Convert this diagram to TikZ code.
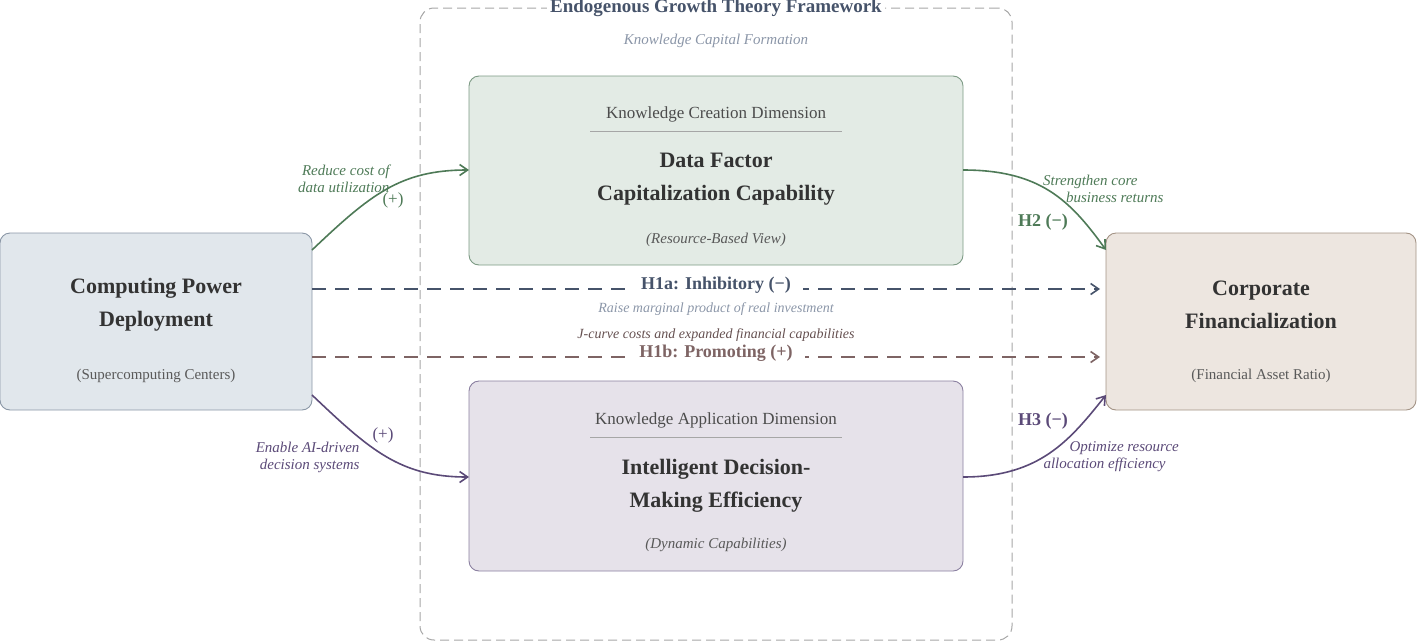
\documentclass[tikz,border=0pt]{standalone}
\usepackage{fontspec}
\setmainfont{Liberation Serif}
\usetikzlibrary{arrows.meta}
\definecolor{gblue}{HTML}{46536A}
\definecolor{ggreen}{HTML}{4E7A57}
\definecolor{gpurp}{HTML}{5B4A78}
\definecolor{gbrown}{HTML}{7E6464}
\definecolor{ggray}{HTML}{8B96A8}
\begin{document}
\begin{tikzpicture}[x=1pt,y=-1pt,
 box/.style={draw,rounded corners=10pt,line width=0.9pt,inner sep=0pt},
 ttl/.style={font=\fontsize{22}{26}\selectfont\bfseries,text=black!80,align=center},
 sub/.style={font=\fontsize{15}{17}\selectfont\itshape,text=black!65},
 dim/.style={font=\fontsize{17}{19}\selectfont,text=black!70},
 lab/.style={font=\fontsize{15}{17}\selectfont\itshape,align=center},
 hyp/.style={font=\fontsize{18}{20}\selectfont\bfseries},
 arr2/.style={line width=1.6pt,-{Straight Barb[length=8pt,width=11pt]}},
 dsh/.style={arr2,dash pattern=on 14pt off 9pt}]
\useasboundingbox (0,0) rectangle (1418,643);
\node[draw=black!35,line width=1pt,rounded corners=14pt,minimum width=592pt,minimum height=632pt,dash pattern=on 9pt off 5pt] (frame) at (716,324) {};
\node[fill=white,font=\fontsize{19}{21}\selectfont\bfseries,text=gblue,inner sep=3pt] (ftitle) at (716,8) {Endogenous Growth Theory Framework};
\node[sub,text=ggray] (kcf) at (716,41) {Knowledge Capital Formation};
% boxes
\node[box,fill={rgb,255:red,225;green,231;blue,236},draw={rgb,255:red,138;green,151;blue,166},minimum width=312pt,minimum height=177pt] (L) at (156,321.5) {};
\node[box,fill={rgb,255:red,227;green,235;blue,229},draw={rgb,255:red,124;green,154;blue,132},minimum width=494pt,minimum height=189pt] (T) at (716,170.5) {};
\node[box,fill={rgb,255:red,230;green,226;blue,234},draw={rgb,255:red,138;green,127;blue,160},minimum width=494pt,minimum height=190pt] (B) at (716,476) {};
\node[box,fill={rgb,255:red,237;green,230;blue,224},draw={rgb,255:red,163;green,147;blue,133},minimum width=310pt,minimum height=177pt] (R) at (1261,321.5) {};
% texts
\node[ttl] (Lt) at (156,304.5) {Computing Power\\[7pt]Deployment};
\node[sub,font=\fontsize{15}{17}\selectfont] (Ls) at (156,376) {(Supercomputing Centers)};
\node[ttl] (Rt) at (1261,304.5) {Corporate\\[7pt]Financialization};
\node[sub,font=\fontsize{15}{17}\selectfont] (Rs) at (1261,376) {(Financial Asset Ratio)};
\node[dim] (Td) at (716,114) {Knowledge Creation Dimension};
\draw[black!35,line width=0.8pt] (590,131) -- (842,131);
\node[ttl] (Tt) at (716,179.5) {Data Factor\\[7pt]Capitalization Capability};
\node[sub] (Ts) at (716,240) {(Resource-Based View)};
\node[dim] (Bd) at (716,420) {Knowledge Application Dimension};
\draw[black!35,line width=0.8pt] (590,437) -- (842,437);
\node[ttl] (Bt) at (716,485.5) {Intelligent Decision-\\[7pt]Making Efficiency};
\node[sub] (Bs) at (716,545) {(Dynamic Capabilities)};
% connectors
\coordinate (a1) at (312,250); \coordinate (a2) at (469,170);
\draw[arr2,ggreen] (a1) .. controls (370,195) and (400,170) .. (a2);
\coordinate (b1) at (963,170); \coordinate (b2) at (1106,250);
\draw[arr2,ggreen] (b1) .. controls (1040,170) and (1070,200) .. (b2);
\coordinate (c1) at (312,395); \coordinate (c2) at (469,477);
\draw[arr2,gpurp] (c1) .. controls (370,450) and (400,477) .. (c2);
\coordinate (d1) at (963,477); \coordinate (d2) at (1106,395);
\draw[arr2,gpurp] (d1) .. controls (1040,477) and (1070,440) .. (d2);
\coordinate (e1) at (312,289); \coordinate (e2) at (1100,289);
\draw[dsh,gblue] (e1) -- (e2);
\coordinate (f1) at (312,357); \coordinate (f2) at (1100,357);
\draw[dsh,gbrown] (f1) -- (f2);
% labels
\node[hyp,text=gblue,fill=white,inner xsep=12pt,inner ysep=2pt] (h1a) at (716,285) {H1a: Inhibitory (−)};
\node[lab,text=ggray,font=\fontsize{14}{16}\selectfont\itshape] (h1at) at (716,309) {Raise marginal product of real investment};
\node[hyp,text=gbrown,fill=white,inner xsep=12pt,inner ysep=2pt] (h1b) at (716,353) {H1b: Promoting (+)};
\node[lab,text=gbrown!80!black,font=\fontsize{14}{16}\selectfont\itshape] (h1bt) at (716,335) {J-curve costs and expanded financial capabilities};
\node[lab,text=ggreen,align=right,anchor=east] (l1) at (393,179) {Reduce cost of\\data utilization};
\node[hyp,text=ggreen,font=\fontsize{17}{19}\selectfont] (p1) at (393,200) {(+)};
\node[lab,text=ggreen,align=right,anchor=east] (l2) at (1167,189) {Strengthen core\hspace*{26pt}\\business returns};
\node[hyp,text=ggreen] (h2) at (1043,222) {H2 (−)};
\node[lab,text=gpurp,align=right,anchor=east] (l3) at (363,457) {Enable AI-driven\\decision systems};
\node[hyp,text=gpurp,font=\fontsize{17}{19}\selectfont] (p2) at (383,435) {(+)};
\node[lab,text=gpurp,align=left,anchor=west] (l4) at (1040,457) {\hspace*{26pt}Optimize resource\\allocation efficiency};
\node[hyp,text=gpurp] (h3) at (1043,421) {H3 (−)};
\end{tikzpicture}
\end{document}
